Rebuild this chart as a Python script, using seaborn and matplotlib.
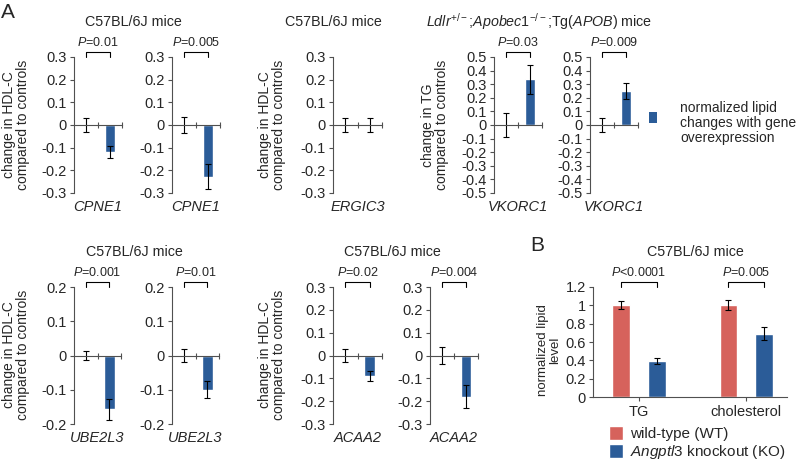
import numpy as np
import pandas as pd
import matplotlib
matplotlib.use("Agg")
import matplotlib.pyplot as plt
import seaborn as sns
from matplotlib.patches import Patch, Rectangle
from matplotlib.ticker import FuncFormatter, MultipleLocator

sns.set_style("white")
plt.rcParams["font.family"] = ["Liberation Sans", "DejaVu Sans"]
plt.rcParams["mathtext.fontset"] = "custom"
plt.rcParams["mathtext.rm"] = "Liberation Sans"
plt.rcParams["mathtext.it"] = "Liberation Sans:italic"
plt.rcParams["axes.unicode_minus"] = False

BLUE = "#2B5C98"
RED = "#D6625C"
AXIS = "#505050"

# Panel A data: [control, overexpression] changes and their errors
cpne1_a = [0.0, -0.12]
cpne1_a_err = [0.03, 0.027]
cpne1_b = [0.0, -0.228]
cpne1_b_err = [0.035, 0.055]
ergic3 = [0.0, 0.0]
ergic3_err = [0.032, 0.032]
vkorc1_a = [0.0, 0.335]
vkorc1_a_err = [0.085, 0.105]
vkorc1_b = [0.0, 0.25]
vkorc1_b_err = [0.055, 0.06]
ube2l3_a = [0.0, -0.157]
ube2l3_a_err = [0.014, 0.031]
ube2l3_b = [0.0, -0.10]
ube2l3_b_err = [0.018, 0.025]
acaa2_a = [0.0, -0.09]
acaa2_a_err = [0.03, 0.02]
acaa2_b = [0.0, -0.18]
acaa2_b_err = [0.037, 0.05]

# Panel B data
b_lipids = ["TG", "cholesterol"]
b_groups = ["wild-type (WT)", r"$\mathit{Angptl3}$ knockout (KO)"]
wt_vals = [1.0, 1.0]
wt_err = [0.045, 0.055]
ko_vals = [0.39, 0.69]
ko_err = [0.035, 0.07]
b_pvals = [r"$\mathit{P}$<0.0001", r"$\mathit{P}$=0.005"]

W, H = 800, 465
fig = plt.figure(figsize=(W / 100, H / 100), dpi=100)


def px_rect(x0, y0, x1, y1):
    return [x0 / W, 1 - y1 / H, (x1 - x0) / W, (y1 - y0) / H]


def ftext(x, y, s, **kw):
    fig.text(x / W, 1 - y / H, s, **kw)


def fmt(v, pos):
    s = f"{round(v, 2):g}"
    return "0" if s == "-0" else s


def style_axes(ax):
    sns.despine(ax=ax)
    for sp in ["left", "bottom"]:
        ax.spines[sp].set_color(AXIS)
        ax.spines[sp].set_linewidth(0.8)
    ax.set_xlabel("")
    ax.set_ylabel("")
    ax.yaxis.set_major_formatter(FuncFormatter(fmt))
    ax.tick_params(axis="y", left=True, direction="out", length=3, width=0.8,
                   color=AXIS, labelsize=10.5, pad=2)


def pair_panel(rect, gene, vals, errs, lim, step, pval=None):
    ax = fig.add_axes(px_rect(*rect))
    sns.barplot(x=["control", gene], y=vals, color=BLUE, saturation=1,
                width=0.45, errorbar=None, ax=ax)
    xs = [b.get_x() + b.get_width() / 2 for b in ax.containers[0]]
    ax.errorbar(xs, vals, yerr=errs, fmt="none", ecolor="black",
                elinewidth=0.8, capsize=2, capthick=0.8)
    style_axes(ax)
    ax.set_ylim(-lim, lim)
    ax.yaxis.set_major_locator(MultipleLocator(step))
    ax.spines["bottom"].set_position(("data", 0))
    ax.set_xlim(-0.5, 1.5)
    ax.set_xticks([0.5, 1.5])
    ax.set_xticklabels([])
    ax.tick_params(axis="x", bottom=True, direction="inout", length=4,
                   width=0.8, color=AXIS)
    ax.annotate(gene, xy=(0.5, 0), xycoords="axes fraction", xytext=(0, -5),
                textcoords="offset points", ha="center", va="top",
                fontsize=10.5, style="italic")
    if pval:
        tr = ax.get_xaxis_transform()
        ax.plot([xs[0], xs[0], xs[1], xs[1]], [1.0, 1.04, 1.04, 1.0],
                transform=tr, color="black", lw=0.8, clip_on=False)
        ax.text(np.mean(xs), 1.105, pval, transform=tr, ha="center",
                va="center", fontsize=9)
    return ax


P = r"$\mathit{P}$"
# Row 1
pair_panel((74, 57, 122, 193), "CPNE1", cpne1_a, cpne1_a_err, 0.3, 0.1, P + "=0.01")
pair_panel((172, 57, 220, 193), "CPNE1", cpne1_b, cpne1_b_err, 0.3, 0.1, P + "=0.005")
pair_panel((333, 57, 382, 193), "ERGIC3", ergic3, ergic3_err, 0.3, 0.1)
pair_panel((494, 57, 542, 193), "VKORC1", vkorc1_a, vkorc1_a_err, 0.5, 0.1, P + "=0.03")
pair_panel((590, 57, 638, 193), "VKORC1", vkorc1_b, vkorc1_b_err, 0.5, 0.1, P + "=0.009")
# Row 2
pair_panel((74, 287, 121, 424), "UBE2L3", ube2l3_a, ube2l3_a_err, 0.2, 0.1, P + "=0.001")
pair_panel((172, 287, 219, 424), "UBE2L3", ube2l3_b, ube2l3_b_err, 0.2, 0.1, P + "=0.01")
pair_panel((333, 287, 382, 424), "ACAA2", acaa2_a, acaa2_a_err, 0.3, 0.1, P + "=0.02")
pair_panel((430, 287, 478, 424), "ACAA2", acaa2_b, acaa2_b_err, 0.3, 0.1, P + "=0.004")

# Panel B
df = pd.DataFrame({
    "lipid": b_lipids * 2,
    "group": [b_groups[0]] * 2 + [b_groups[1]] * 2,
    "value": wt_vals + ko_vals,
})
axB = fig.add_axes(px_rect(593, 287, 787, 397))
sns.barplot(data=df, x="lipid", y="value", hue="group", palette=[RED, BLUE],
            saturation=1, width=0.664, gap=0.5, errorbar=None, legend=False, ax=axB)
for cont, vals, errs in zip(axB.containers, [wt_vals, ko_vals], [wt_err, ko_err]):
    xs = [b.get_x() + b.get_width() / 2 for b in cont]
    axB.errorbar(xs, vals, yerr=errs, fmt="none", ecolor="black",
                 elinewidth=0.8, capsize=2, capthick=0.8)
style_axes(axB)
axB.set_ylim(0, 1.2)
axB.yaxis.set_major_locator(MultipleLocator(0.2))
axB.set_xlim(-0.43, 1.38)
axB.tick_params(axis="x", bottom=True, direction="out", length=3, width=0.8,
                color=AXIS, labelsize=10.5, pad=3)
trB = axB.get_xaxis_transform()
for i, p in enumerate(b_pvals):
    x0 = axB.containers[0][i].get_x() + axB.containers[0][i].get_width() / 2
    x1 = axB.containers[1][i].get_x() + axB.containers[1][i].get_width() / 2
    axB.plot([x0, x0, x1, x1], [1.0, 1.045, 1.045, 1.0], transform=trB,
             color="black", lw=0.8, clip_on=False)
    axB.text((x0 + x1) / 2, 1.13, p, transform=trB, ha="center", va="center",
             fontsize=9)
axB.legend(handles=[Patch(fc=RED), Patch(fc=BLUE)], labels=b_groups,
           loc="upper left", bbox_to_anchor=(609 / W, 1 - 426 / H),
           bbox_transform=fig.transFigure, frameon=False, fontsize=11,
           handlelength=0.9, handleheight=1.0, handletextpad=0.5,
           labelspacing=0.15, borderpad=0, borderaxespad=0)

# Legend for panel A: swatch plus label
fig.add_artist(Rectangle((649 / W, 1 - 123 / H), 8 / W, 11 / H,
                         transform=fig.transFigure, fc=BLUE, ec="none"))
ftext(680, 123, "normalized lipid\nchanges with gene\noverexpression",
      ha="left", va="center", fontsize=10, linespacing=1.05)

# Titles
ftext(133, 22, "C57BL/6J mice", ha="center", va="center", fontsize=10.3)
ftext(333, 22, "C57BL/6J mice", ha="center", va="center", fontsize=10.3)
ftext(539, 22, r"$\mathit{Ldlr}^{+/-}$;$\mathit{Apobec1}^{-/-}$;Tg($\mathit{APOB}$) mice",
      ha="center", va="center", fontsize=10.3)
ftext(134, 252, "C57BL/6J mice", ha="center", va="center", fontsize=10.3)
ftext(392, 252, "C57BL/6J mice", ha="center", va="center", fontsize=10.3)
ftext(695, 252, "C57BL/6J mice", ha="center", va="center", fontsize=10.3)

# Y labels
hdl = "change in HDL-C\ncompared to controls"
kw = dict(rotation=90, ha="center", va="center", multialignment="center",
          fontsize=10, linespacing=1.05)
ftext(16, 125, hdl, **kw)
ftext(272, 125, hdl, **kw)
ftext(435, 125, "change in TG\ncompared to controls", **kw)
ftext(16, 355, hdl, **kw)
ftext(272, 355, hdl, **kw)
ftext(549, 350, "normalized lipid\nlevel", **{**kw, "fontsize": 9.5})

# Panel letters
ftext(1, 12, "A", ha="left", va="center", fontsize=15)
ftext(530, 245, "B", ha="left", va="center", fontsize=15)

fig.savefig("out.png", dpi=100)
